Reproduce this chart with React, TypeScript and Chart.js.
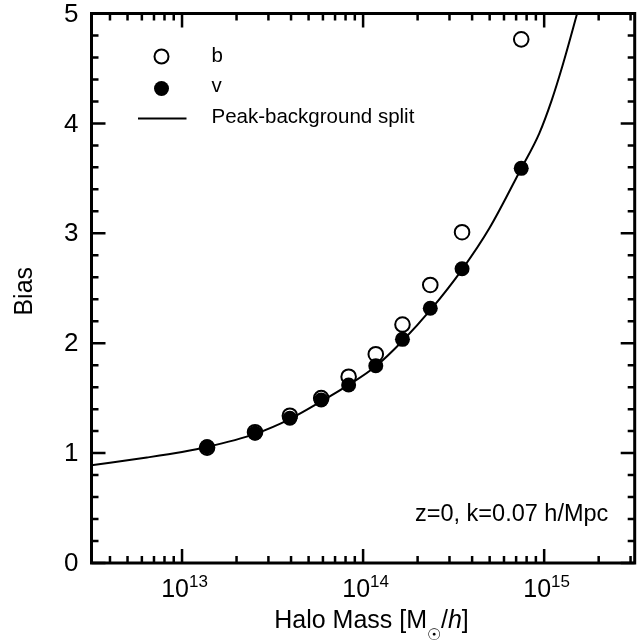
import React, { useEffect, useRef } from "react";
import { Chart, registerables } from "chart.js";

Chart.register(...registerables);

// ---- data ----
const haloMass = [1.375e13, 2.53e13, 3.94e13, 5.87e13, 8.32e13, 1.175e14, 1.65e14, 2.35e14, 3.52e14, 7.47e14];
const biasB = [1.05, 1.19, 1.34, 1.5, 1.695, 1.9, 2.17, 2.53, 3.01, 4.765];
const biasV = [1.058, 1.18, 1.317, 1.483, 1.62, 1.795, 2.035, 2.318, 2.678, 3.591];

const pbsMass = [3.16e12, 6.4e12, 1e13, 1.375e13, 2.53e13, 3.94e13, 5.87e13, 8.32e13, 1.175e14, 1.65e14, 2.35e14, 3.52e14, 5e14, 7.47e14, 9.4e14, 1.1e15, 1.26e15, 1.52e15, 1.6e15];
const pbsBias = [0.89, 0.96, 1.01, 1.055, 1.175, 1.31, 1.47, 1.62, 1.79, 2.02, 2.3, 2.67, 3.05, 3.59, 3.91, 4.21, 4.52, 5.0, 5.14];

const xMin = Math.pow(10, 12.5);
const xMax = Math.pow(10, 15.5);
const yMin = 0;
const yMax = 5;

const xMajorTicks = [1e13, 1e14, 1e15];
const xMajorExponents = ["13", "14", "15"];
const yMajorTicks = [0, 1, 2, 3, 4, 5];
const yTickLabels = ["0", "1", "2", "3", "4", "5"];

const legendLabels = ["b", "v", "Peak-background split"];
const annotationText = "z=0, k=0.07 h/Mpc";
const yTitle = "Bias";

const FONT = "'Liberation Sans', Arial, Helvetica, sans-serif";

const decorPlugin = {
  id: "decor",
  afterDraw(chart: any) {
    const ctx = chart.ctx as CanvasRenderingContext2D;
    const ca = chart.chartArea;
    const xs = chart.scales.x;
    const ys = chart.scales.y;
    ctx.save();
    ctx.strokeStyle = "#000";
    ctx.fillStyle = "#000";
    ctx.lineCap = "butt";

    // x ticks (inward, bottom & top)
    ctx.lineWidth = 2.5;
    for (let e = 12; e <= 15; e++) {
      for (let m = 1; m <= 9; m++) {
        const v = m * Math.pow(10, e);
        if (v < xMin || v > xMax) continue;
        const px = xs.getPixelForValue(v);
        const len = m === 1 ? 14 : 7;
        ctx.beginPath();
        ctx.moveTo(px, ca.bottom);
        ctx.lineTo(px, ca.bottom - len);
        ctx.moveTo(px, ca.top);
        ctx.lineTo(px, ca.top + len);
        ctx.stroke();
      }
    }
    // y ticks (inward, left & right)
    for (let i = 0; i <= 25; i++) {
      const v = yMin + i * 0.2;
      const py = ys.getPixelForValue(v);
      const len = i % 5 === 0 ? 14 : 7;
      ctx.beginPath();
      ctx.moveTo(ca.left, py);
      ctx.lineTo(ca.left + len, py);
      ctx.moveTo(ca.right, py);
      ctx.lineTo(ca.right - len, py);
      ctx.stroke();
    }
    // frame
    ctx.lineWidth = 3;
    ctx.strokeRect(ca.left, ca.top, ca.right - ca.left, ca.bottom - ca.top);

    // y tick labels
    ctx.font = `26px ${FONT}`;
    ctx.textAlign = "right";
    ctx.textBaseline = "middle";
    yMajorTicks.forEach((v, i) => {
      ctx.fillText(yTickLabels[i], ca.left - 13, ys.getPixelForValue(v) + 1);
    });

    // x tick labels 10^n
    ctx.textAlign = "left";
    ctx.textBaseline = "alphabetic";
    xMajorTicks.forEach((v, i) => {
      const px = xs.getPixelForValue(v);
      ctx.font = `25px ${FONT}`;
      const w1 = ctx.measureText("10").width;
      ctx.font = `17px ${FONT}`;
      const w2 = ctx.measureText(xMajorExponents[i]).width;
      const x0 = px - (w1 + w2) / 2 + 2.5;
      ctx.font = `25px ${FONT}`;
      ctx.fillText("10", x0, ca.bottom + 34);
      ctx.font = `17px ${FONT}`;
      ctx.fillText(xMajorExponents[i], x0 + w1, ca.bottom + 24);
    });

    // x title: Halo Mass [M_sun/h]
    const parts: [string, string, number][] = [
      ["Halo Mass [M", `25px ${FONT}`, 0],
      ["\u2609", `16px ${FONT}`, 12],
      ["/", `25px ${FONT}`, 0],
      ["h", `italic 25px ${FONT}`, 0],
      ["]", `25px ${FONT}`, 0],
    ];
    let total = 0;
    const widths = parts.map(([t, f]) => {
      ctx.font = f;
      const w = ctx.measureText(t).width;
      total += w;
      return w;
    });
    let tx = 371.5 - total / 2;
    const tBase = ca.bottom + 65;
    parts.forEach(([t, f, dy], i) => {
      ctx.font = f;
      ctx.fillText(t, tx, tBase + dy);
      tx += widths[i];
    });

    // y title
    ctx.save();
    ctx.translate(25.5, (ca.top + ca.bottom) / 2 + 3);
    ctx.rotate(-Math.PI / 2);
    ctx.textAlign = "center";
    ctx.textBaseline = "middle";
    ctx.font = `25px ${FONT}`;
    ctx.fillText(yTitle, 0, 0);
    ctx.restore();

    // legend
    const lx = ca.left + 70;
    ctx.lineWidth = 2;
    ctx.beginPath();
    ctx.arc(lx, ca.top + 43, 7, 0, Math.PI * 2);
    ctx.fillStyle = "#fff";
    ctx.fill();
    ctx.stroke();
    ctx.fillStyle = "#000";
    ctx.beginPath();
    ctx.arc(lx, ca.top + 75, 7.5, 0, Math.PI * 2);
    ctx.fill();
    ctx.beginPath();
    ctx.moveTo(lx - 23.5, ca.top + 105);
    ctx.lineTo(lx + 25, ca.top + 105);
    ctx.stroke();
    ctx.font = `20.5px ${FONT}`;
    ctx.textAlign = "left";
    ctx.textBaseline = "alphabetic";
    ctx.fillText(legendLabels[0], lx + 50, ca.top + 48);
    ctx.fillText(legendLabels[1], lx + 50, ca.top + 78);
    ctx.fillText(legendLabels[2], lx + 50, ca.top + 109);

    // annotation
    ctx.font = `23.5px ${FONT}`;
    ctx.fillText(annotationText, 415, ca.bottom - 42);

    ctx.restore();
  },
};

export default function App() {
  const canvasRef = useRef<HTMLCanvasElement | null>(null);

  useEffect(() => {
    const canvas = canvasRef.current;
    if (!canvas) return;
    const chart = new Chart(canvas, {
      type: "scatter",
      data: {
        datasets: [
          {
            label: legendLabels[1],
            data: haloMass.map((m, i) => ({ x: m, y: biasV[i] })),
            pointRadius: 7.5,
            pointBackgroundColor: "#000",
            pointBorderColor: "#000",
            pointBorderWidth: 0,
            showLine: false,
            order: 1,
          },
          {
            label: legendLabels[0],
            data: haloMass.map((m, i) => ({ x: m, y: biasB[i] })),
            pointRadius: 7.3,
            pointBackgroundColor: "#fff",
            pointBorderColor: "#000",
            pointBorderWidth: 2,
            showLine: false,
            order: 2,
          },
          {
            label: legendLabels[2],
            data: pbsMass.map((m, i) => ({ x: m, y: pbsBias[i] })),
            showLine: true,
            borderColor: "#000",
            borderWidth: 2,
            pointRadius: 0,
            cubicInterpolationMode: "monotone",
            fill: false,
            order: 3,
          },
        ],
      },
      options: {
        animation: false,
        responsive: false,
        devicePixelRatio: 1,
        layout: { padding: { top: 13.5, right: 6.5, left: 0, bottom: 0 } },
        plugins: {
          legend: { display: false },
          tooltip: { enabled: false },
          title: { display: false },
        },
        scales: {
          x: {
            type: "logarithmic",
            min: xMin,
            max: xMax,
            grid: { display: false, drawTicks: false },
            border: { display: false },
            ticks: { display: false },
            afterFit: (s: any) => {
              s.height = 81;
            },
          },
          y: {
            type: "linear",
            min: yMin,
            max: yMax,
            grid: { display: false, drawTicks: false },
            border: { display: false },
            ticks: { display: false },
            afterFit: (s: any) => {
              s.width = 91.5;
            },
          },
        },
      },
      plugins: [decorPlugin],
    });
    return () => chart.destroy();
  }, []);

  return (
    <div style={{ position: "absolute", left: 0, top: 0, width: 644, height: 644, background: "#fff" }}>
      <canvas ref={canvasRef} width={644} height={644} style={{ display: "block" }} />
    </div>
  );
}
